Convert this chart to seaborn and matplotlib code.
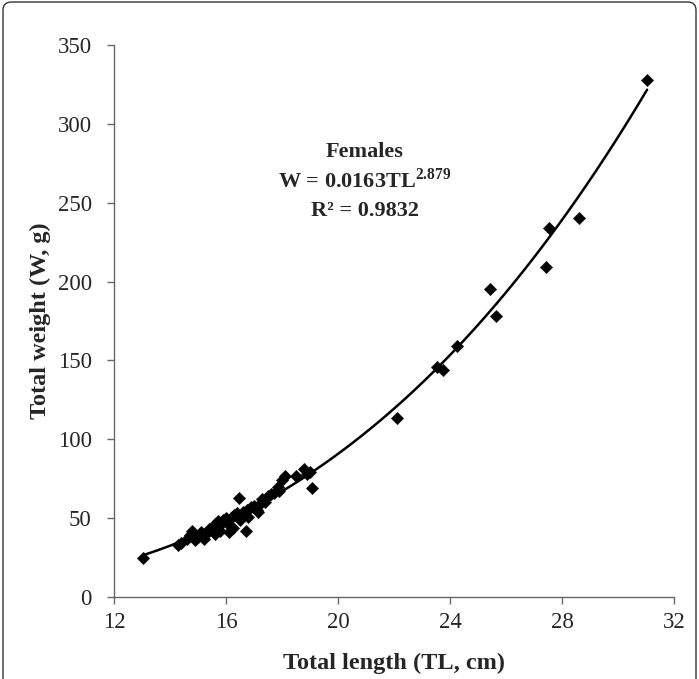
import numpy as np
import pandas as pd
import matplotlib
matplotlib.use("Agg")
import matplotlib.pyplot as plt
from matplotlib.patches import FancyBboxPatch
import seaborn as sns

# ---- data ----
length_cm = [13.04, 14.3, 14.4, 14.6, 14.7, 14.8, 14.9, 15.0, 15.1, 15.2, 15.3, 15.4, 15.5,
             15.6, 15.6, 15.7, 15.75, 15.8, 15.9, 16.0, 16.0, 16.05, 16.1, 16.2, 16.25, 16.3,
             16.4, 16.45, 16.5, 16.5, 16.6, 16.7, 16.75, 16.8, 16.9, 17.0, 17.1, 17.15, 17.2,
             17.3, 17.4, 17.5, 17.6, 17.7, 17.85, 17.9, 18.0, 18.1, 18.5, 18.8, 18.9, 19.0,
             19.07, 22.1, 23.55, 23.75, 24.25, 25.43, 25.64, 27.43, 27.55, 28.6, 31.04]
weight_g = [24.7, 33, 34, 37, 39, 42, 36, 38, 41, 37, 40, 43, 44,
            46, 40, 48, 45, 42, 49, 50, 48, 47, 41, 51, 44, 52,
            53, 62.5, 49, 51, 54, 42, 55, 51, 57, 58, 55, 54, 59,
            62, 60, 64, 65, 66, 70, 67, 74, 77, 77, 81, 78, 79,
            69, 113.5, 146, 144, 159, 195, 178, 209, 234, 240, 328]
coef_a = 0.0163
coef_b = 2.879
x_ticks = [12, 16, 20, 24, 28, 32]
y_ticks = [0, 50, 100, 150, 200, 250, 300, 350]

df = pd.DataFrame({"TL": length_cm, "W": weight_g})
fit_x = np.linspace(min(length_cm), max(length_cm), 200)
fit_df = pd.DataFrame({"TL": fit_x, "W": coef_a * fit_x ** coef_b})

sns.set_theme(style="ticks")
plt.rcParams["font.family"] = ["Liberation Serif", "DejaVu Serif"]
plt.rcParams["mathtext.fontset"] = "custom"
plt.rcParams["mathtext.rm"] = "Liberation Serif"
plt.rcParams["mathtext.bf"] = "Liberation Serif:bold"

fig = plt.figure(figsize=(6.99, 6.79), dpi=100)
ax = fig.add_axes([114/699, 1-597/679, (674-114)/699, (597-45)/679])

sns.lineplot(data=fit_df, x="TL", y="W", ax=ax, color="black", linewidth=1.8)
sns.scatterplot(data=df, x="TL", y="W", ax=ax, marker="D", color="black",
                s=40, edgecolor="black", linewidth=0.3, zorder=3)

ax.set_xlim(12, 32)
ax.set_ylim(0, 350)
ax.set_xticks(x_ticks)
ax.set_yticks(y_ticks)
ax.tick_params(direction="out", length=5, width=1, labelsize=16.5, color="#666666")
ax.tick_params(axis="y", pad=11)
ax.tick_params(axis="x", pad=6)
for s in ["top", "right"]:
    ax.spines[s].set_visible(False)
for s in ["left", "bottom"]:
    ax.spines[s].set_color("#666666")
    ax.spines[s].set_linewidth(1)

ax.set_xlabel("Total length (TL, cm)", fontsize=17.5, fontweight="bold", labelpad=14)
ax.set_ylabel("Total weight (W, g)", fontsize=17.5, fontweight="bold", labelpad=5)

ax.text(20.96, 282, "Females", ha="center", va="center", fontsize=16, fontweight="bold")
ax.text(20.96, 264, r"W = 0.0163TL$^{\mathbf{2.879}}$", ha="center", va="center",
        fontsize=16, fontweight="bold")
ax.text(20.96, 245, "R² = 0.9832", ha="center", va="center", fontsize=16, fontweight="bold")

border = FancyBboxPatch((3/699, -0.05), (693)/699, 1.05 - 2/679,
                        boxstyle="round,pad=0,rounding_size=0.012",
                        transform=fig.transFigure, fill=False,
                        edgecolor="#333333", linewidth=1)
fig.patches.append(border)

fig.savefig("out.png", dpi=100)
